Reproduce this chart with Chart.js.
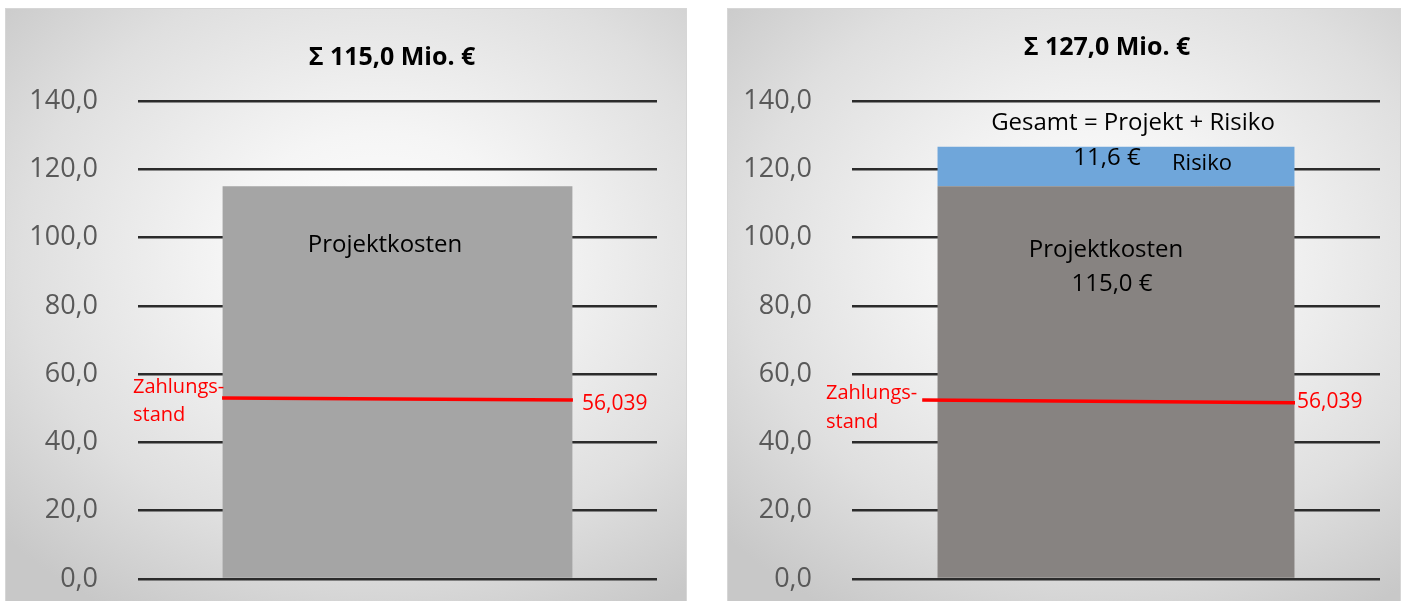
<!DOCTYPE html>
<html>
<head>
<meta charset="utf-8">
<script src="https://cdn.jsdelivr.net/npm/chart.js@4.4.1/dist/chart.umd.min.js"></script>
<style>
    body { margin: 0; background: #ffffff; width: 1405px; height: 601px; overflow: hidden; }
    .panel {
        position: absolute;
        border: 1px solid #d6d6d6;
        background: radial-gradient(ellipse 75% 70% at 55% 42%, #ffffff 0%, #f5f5f5 30%, #dfdfdf 70%, #c8c8c8 100%);
    }
    #panel-left { left: 5px; top: 8px; width: 680px; height: 592px; }
    #panel-right { left: 727px; top: 8px; width: 672px; height: 592px; }
    canvas { display: block; }
</style>
</head>
<body>
<div class="panel" id="panel-left"><canvas id="chartLeft"></canvas></div>
<div class="panel" id="panel-right"><canvas id="chartRight"></canvas></div>

<script>
// Données
const categories = ['Projekt'];
const yTicks = [0, 20, 40, 60, 80, 100, 120, 140];

// Diagramme gauche
const leftTitle = 'Σ 115,0 Mio. €';
const leftProjekt = [115.0];
const leftZahlungX = [0.162, 0.838];
const leftZahlungY = [53.0, 52.4];
const leftZahlungLabel = '56,039';

// Diagramme droit
const rightTitle = 'Σ 127,0 Mio. €';
const rightProjekt = [115.0];
const rightRisiko = [11.6];
const rightZahlungX = [0.133, 0.839];
const rightZahlungY = [52.4, 51.6];
const rightZahlungLabel = '56,039';

const FONT = '"Open Sans", "Liberation Sans", sans-serif';

// Formater les nombres à la française
function formatTick(v) {
    return v.toFixed(1).replace('.', ',');
}

// Plugin pour dessiner les textes libres
const textPlugin = {
    id: 'freeText',
    afterDatasetsDraw(chart, args, opts) {
        const ctx = chart.ctx;
        ctx.save();
        (opts.items || []).forEach(item => {
            ctx.font = `${item.bold ? 'bold ' : ''}${item.size}px ${FONT}`;
            ctx.fillStyle = item.color || '#000000';
            ctx.textAlign = item.align || 'center';
            ctx.textBaseline = 'middle';
            ctx.fillText(item.text, item.x, item.y);
        });
        ctx.restore();
    }
};

function buildChart(canvasId, cfg) {
    const datasets = cfg.bars.map(b => ({
        type: 'bar',
        label: b.label,
        data: b.data,
        backgroundColor: b.color,
        borderWidth: 0,
        barPercentage: cfg.barPercentage,
        categoryPercentage: 1,
        grouped: false,
        stack: 's',
        order: 2
    }));
    datasets.push({
        type: 'line',
        label: 'Zahlungsstand',
        data: cfg.lineX.map((x, i) => ({ x: x, y: cfg.lineY[i] })),
        xAxisID: 'x2',
        borderColor: '#ff0000',
        borderWidth: 3.5,
        pointRadius: 0,
        fill: false,
        order: 1
    });

    return new Chart(document.getElementById(canvasId), {
        type: 'bar',
        data: { labels: categories, datasets: datasets },
        plugins: [textPlugin],
        options: {
            responsive: true,
            maintainAspectRatio: false,
            animation: false,
            layout: { padding: { top: 92, bottom: 22, right: cfg.padRight, left: 0 } },
            plugins: {
                legend: { display: false },
                tooltip: { enabled: false },
                freeText: { items: cfg.texts }
            },
            scales: {
                x: { type: 'category', display: false, stacked: true },
                x2: { type: 'linear', display: false, min: 0, max: 1, offset: false },
                y: {
                    stacked: true,
                    min: 0,
                    max: 140,
                    afterBuildTicks: s => { s.ticks = yTicks.map(v => ({ value: v })); },
                    afterFit: s => {
                        s.width = cfg.axisWidth;
                        s.paddingTop = 0;
                        s.paddingBottom = 0;
                    },
                    border: { display: false },
                    grid: { color: '#2b2b2b', lineWidth: 2.5, drawTicks: false },
                    ticks: {
                        padding: 40,
                        color: '#595959',
                        font: { family: FONT, size: 27 },
                        callback: v => formatTick(v)
                    }
                }
            }
        }
    });
}

// Gauche
buildChart('chartLeft', {
    bars: [{ label: 'Projektkosten', data: leftProjekt, color: '#a5a5a5' }],
    barPercentage: 0.674,
    lineX: leftZahlungX,
    lineY: leftZahlungY,
    axisWidth: 132,
    padRight: 29,
    texts: [
        { text: leftTitle, x: 386, y: 49, size: 25, bold: true },
        { text: 'Projektkosten', x: 379, y: 236, size: 24 },
        { text: 'Zahlungs-', x: 127, y: 378, size: 20, align: 'left', color: '#ff0000' },
        { text: 'stand', x: 127, y: 406, size: 20, align: 'left', color: '#ff0000' },
        { text: leftZahlungLabel, x: 576, y: 395, size: 21, align: 'left', color: '#ff0000' }
    ]
});

// Droite
buildChart('chartRight', {
    bars: [
        { label: 'Projektkosten', data: rightProjekt, color: '#878381' },
        { label: 'Risiko', data: rightRisiko, color: '#6fa6da' }
    ],
    barPercentage: 0.676,
    lineX: rightZahlungX,
    lineY: rightZahlungY,
    axisWidth: 124,
    padRight: 20,
    texts: [
        { text: rightTitle, x: 379, y: 39, size: 25, bold: true },
        { text: 'Gesamt = Projekt + Risiko', x: 405, y: 114, size: 24 },
        { text: '11,6 €', x: 379, y: 149, size: 24 },
        { text: 'Risiko', x: 444, y: 155, size: 22, align: 'left' },
        { text: 'Projektkosten', x: 378, y: 241, size: 24 },
        { text: '115,0 €', x: 384, y: 275, size: 24 },
        { text: 'Zahlungs-', x: 98, y: 384, size: 20, align: 'left', color: '#ff0000' },
        { text: 'stand', x: 98, y: 413, size: 20, align: 'left', color: '#ff0000' },
        { text: rightZahlungLabel, x: 569, y: 393, size: 21, align: 'left', color: '#ff0000' }
    ]
});
</script>
</body>
</html>
